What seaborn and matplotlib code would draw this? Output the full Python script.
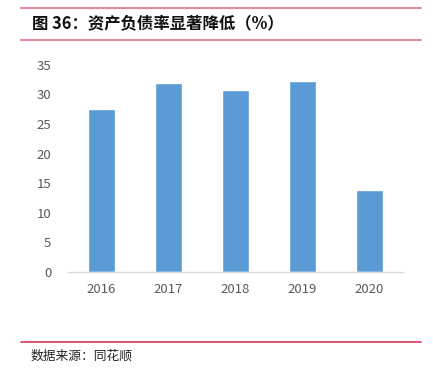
import matplotlib
matplotlib.use('Agg')
import matplotlib.pyplot as plt
import seaborn as sns
import pandas as pd
from matplotlib.lines import Line2D

# data
years = ['2016', '2017', '2018', '2019', '2020']
debt_ratio = [27.6, 31.9, 30.7, 32.3, 13.8]
yticks = [0, 5, 10, 15, 20, 25, 30, 35]

df = pd.DataFrame({'year': years, 'ratio': debt_ratio})

sns.set_style('white')
plt.rcParams['font.family'] = ['Noto Sans CJK SC', 'DejaVu Sans']

fig = plt.figure(figsize=(4.33, 3.70), dpi=100)
ax = fig.add_axes([68 / 433, 1 - 272 / 370, (403 - 68) / 433, (272 - 50) / 370])

sns.barplot(data=df, x='year', y='ratio', color='#5B9BD5', width=0.4,
            saturation=1, ax=ax)

ax.set_ylim(0, 37.5)
ax.set_yticks(yticks)
ax.set_xlabel('')
ax.set_ylabel('')
for s in ['top', 'right', 'left']:
    ax.spines[s].set_visible(False)
ax.spines['bottom'].set_color('#D9D9D9')
ax.spines['bottom'].set_linewidth(1)
ax.tick_params(axis='both', length=0, labelsize=9.5, colors='#595959')
ax.tick_params(axis='y', pad=12)
ax.tick_params(axis='x', pad=8)

# header and footer
fig.add_artist(Line2D([21 / 433, 421 / 433], [1 - 7.5 / 370, 1 - 7.5 / 370],
                      color='#E48A98', lw=1.5))
fig.add_artist(Line2D([21 / 433, 421 / 433], [1 - 39.5 / 370, 1 - 39.5 / 370],
                      color='#E48A98', lw=1.5))
fig.text(32 / 433, 1 - 24 / 370, '图 36：资产负债率显著降低（%）', fontsize=11.8,
         fontweight='bold', va='center', ha='left', color='#111111')
fig.add_artist(Line2D([21 / 433, 421 / 433], [1 - 342 / 370, 1 - 342 / 370],
                      color='#D63A5E', lw=1.2))
fig.text(31 / 433, 1 - 356 / 370, '数据来源：同花顺', fontsize=9.2,
         va='center', ha='left', color='#222222')

fig.savefig('out.png', dpi=100)
